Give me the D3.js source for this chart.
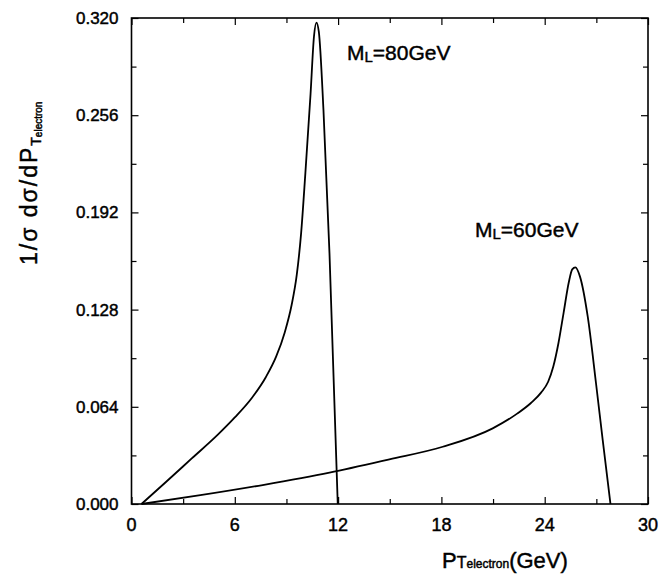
<!DOCTYPE html>
<html>
<head>
<meta charset="utf-8">
<script src="https://cdn.jsdelivr.net/npm/d3@7"></script>
<style>
  body { margin: 0; background: #fff; }
  text { font-family: "Liberation Sans", Arial, sans-serif; fill: #000; stroke: #000; stroke-width: 0.45px; }
</style>
</head>
<body>
<div id="chart"></div>
<script>
// 80 GeV curve
var x80 = [0.58, 2, 3.5, 5, 6, 7, 7.8, 8.4, 8.9, 9.3, 9.6, 9.85, 10.1, 10.4, 10.6, 10.74, 10.88, 11.15, 11.5, 11.98];
var y80 = [0, 0.0145, 0.030, 0.0455, 0.057, 0.070, 0.0835, 0.097, 0.113, 0.131, 0.151, 0.178, 0.218, 0.270, 0.308, 0.317, 0.311, 0.2594, 0.165, 0];

// 60 GeV curve
var x60 = [0.58, 4, 7.62, 11.5, 14.98, 18.08, 20.98, 22.4, 23.2, 23.8, 24.2, 24.5, 24.8, 25.1, 25.4, 25.6, 25.78, 26.05, 26.5, 26.98, 27.37, 27.82];
var y60 = [0, 0.0058, 0.0125, 0.0206, 0.0294, 0.0377, 0.0498, 0.0595, 0.0665, 0.0735, 0.0805, 0.0905, 0.106, 0.126, 0.146, 0.1545, 0.1558, 0.1497, 0.1233, 0.0795, 0.0421, 0];

var xTicks = [0, 6, 12, 18, 24, 30];
var xMinor = [3, 9, 15, 21, 27];
var yTicks = [0, 0.064, 0.128, 0.192, 0.256, 0.320];
var yMinor = [0.032, 0.096, 0.160, 0.224, 0.288];

var svg = d3.select("#chart")
  .append("svg")
  .attr("width", 670)
  .attr("height", 576);

var mLeft = 131.5, mRight = 648, mTop = 18, mBottom = 504;

var x = d3.scaleLinear().domain([0, 30]).range([mLeft, mRight]);
var y = d3.scaleLinear().domain([0, 0.32]).range([mBottom, mTop]);

// major + minor ticks on all four sides, pointing inward
function ticks(axis, vals, size, tr) {
  var g = svg.append("g").attr("transform", tr)
    .call(axis.tickValues(vals).tickSize(size).tickFormat(""));
  g.select(".domain").remove();
  g.selectAll("line").attr("stroke", "#000").attr("stroke-width", 1.2);
}
ticks(d3.axisBottom(x), xTicks, -7, "translate(0," + mBottom + ")");
ticks(d3.axisBottom(x), xMinor, -5, "translate(0," + mBottom + ")");
ticks(d3.axisTop(x), xTicks, -7, "translate(0," + mTop + ")");
ticks(d3.axisTop(x), xMinor, -5, "translate(0," + mTop + ")");
ticks(d3.axisLeft(y), yTicks, -7, "translate(" + mLeft + ",0)");
ticks(d3.axisLeft(y), yMinor, -5, "translate(" + mLeft + ",0)");
ticks(d3.axisRight(y), yTicks, -7, "translate(" + mRight + ",0)");
ticks(d3.axisRight(y), yMinor, -5, "translate(" + mRight + ",0)");

// tick labels
svg.append("g").selectAll("text.xl")
  .data(xTicks).enter().append("text")
  .attr("x", d => x(d))
  .attr("y", 531)
  .attr("text-anchor", "middle")
  .style("font-size", "18px")
  .text(d => d);

svg.append("g").selectAll("text.yl")
  .data(yTicks).enter().append("text")
  .attr("x", 118.5)
  .attr("y", d => y(d) + 6)
  .attr("text-anchor", "end")
  .style("font-size", "17px")
  .text(d3.format(".3f"));

// frame
svg.append("rect")
  .attr("x", mLeft).attr("y", mTop)
  .attr("width", mRight - mLeft).attr("height", mBottom - mTop)
  .attr("fill", "none")
  .attr("stroke", "#000")
  .attr("stroke-width", 1.6);

var line = d3.line()
  .x(d => x(d[0]))
  .y(d => y(d[1]))
  .curve(d3.curveMonotoneX);

[[x80, y80], [x60, y60]].forEach(function(s) {
  svg.append("path")
    .datum(d3.zip(s[0], s[1]))
    .attr("d", line)
    .attr("fill", "none")
    .attr("stroke", "#000")
    .attr("stroke-width", 1.8);
});

// curve labels
function mlabel(px, py, mass) {
  var t = svg.append("text").attr("x", px).attr("y", py).style("font-size", "21px");
  t.append("tspan").text("M");
  t.append("tspan").attr("dy", 2).style("font-size", "15px").text("L");
  t.append("tspan").attr("dy", -2).text("=" + mass + "GeV");
}
mlabel(347, 60, 80);
mlabel(475, 237, 60);

// axis titles
var xt = svg.append("text").attr("x", 442).attr("y", 568).style("font-size", "22px");
xt.append("tspan").text("P");
xt.append("tspan").style("font-size", "16px").text("T");
xt.append("tspan").style("font-size", "12px").text("electron");
xt.append("tspan").text("(GeV)");

var yt = svg.append("text")
  .attr("transform", "translate(37,265) rotate(-90)")
  .style("font-size", "23px");
yt.append("tspan").style("letter-spacing", "2px").text("1/σ dσ/dP");
yt.append("tspan").attr("dy", 4).style("font-size", "14px").text("T");
yt.append("tspan").attr("dy", 1).style("font-size", "10px").text("electron");
</script>
</body>
</html>
